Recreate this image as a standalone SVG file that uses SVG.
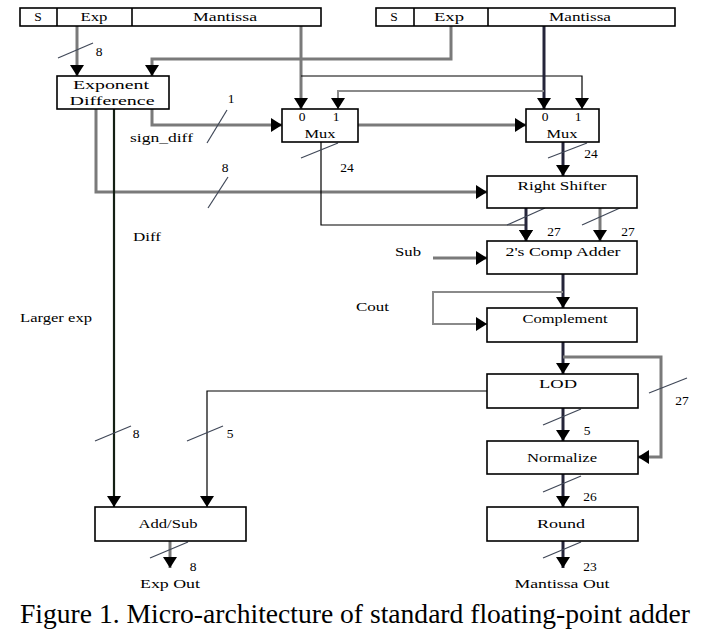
<svg xmlns="http://www.w3.org/2000/svg" width="702" height="630" viewBox="0 0 702 630">
<defs>
<marker id="ah" markerUnits="userSpaceOnUse" markerWidth="14" markerHeight="14" viewBox="0 0 11 14" refX="11" refY="7" orient="auto">
<path d="M0,0 L11,7 L0,14 Z" fill="#000"/>
</marker>
</defs>
<style>
.box{fill:#fff;stroke:#000;stroke-width:1.6}
.t{font-family:"Liberation Serif","Times New Roman",serif;font-size:13.5px;fill:#000;text-anchor:middle}
.l{font-family:"Liberation Serif","Times New Roman",serif;font-size:13.5px;fill:#000}
.g{fill:none;stroke:#7a7a7a;stroke-width:3}
.g2{fill:none;stroke:#8a8a8a;stroke-width:2}
.d{fill:none;stroke:#25253a;stroke-width:3}
.dk{fill:none;stroke:#142014;stroke-width:2.2}
.k{fill:none;stroke:#000;stroke-width:1.2}
.s{fill:none;stroke:#404858;stroke-width:1.2}
.a{marker-end:url(#ah)}
</style>
<rect width="702" height="630" fill="#fff"/>
<g id="connectors">
<path class="g a" d="M77,26 V76"/>
<path class="g a" d="M451,26 V59 H152 V76"/>
<path class="g a" d="M301,26 V109"/>
<path class="k a" d="M301,76 H582 V109"/>
<path class="d a" d="M544,26 V109"/>
<path class="g2 a" d="M544,91 H338 V109"/>
<path class="g a" d="M152,109 V125 H282"/>
<path class="g a" d="M358,125 H526"/>
<path class="g a" d="M96,109 V192 H487"/>
<path class="dk a" d="M114,109 V507"/>
<path class="k a" d="M321,142 V225 H526 V241"/>
<path class="d a" d="M563,142 V176"/>
<path class="d a" d="M526,208 V241"/>
<path class="g a" d="M600,208 V241"/>
<path class="g a" d="M433,258 H487"/>
<path class="d a" d="M563,274 V308"/>
<path class="g2 a" d="M563,292 H433 V324 H487"/>
<path class="d a" d="M563,342 V374"/>
<path class="g a" d="M563,357 H661 V457 H638"/>
<path class="k a" d="M487,391 H207 V507"/>
<path class="d a" d="M563,408 V441"/>
<path class="d a" d="M563,474 V507"/>
<path class="d a" d="M563,541 V568"/>
<path class="g a" d="M170,541 V568"/>
<g id="slashes">
<path class="s" d="M58,58 L93,43"/>
<path class="s" d="M207,143 L227,110"/>
<path class="s" d="M208,208 L228,177"/>
<path class="s" d="M301,158 L338,143"/>
<path class="s" d="M548,158 L587,143"/>
<path class="s" d="M507,225 L545,208"/>
<path class="s" d="M582,225 L620,208"/>
<path class="s" d="M649,393 L687,378"/>
<path class="s" d="M95,441 L131,426"/>
<path class="s" d="M187,441 L223,426"/>
<path class="s" d="M543,425 L581,409"/>
<path class="s" d="M543,492 L581,476"/>
<path class="s" d="M543,558 L581,542"/>
<path class="s" d="M150,558 L188,542"/>
</g>
<g id="connector-labels">
<text class="t" x="99" y="56">8</text>
<text class="t" x="231" y="103">1</text>
<text class="l" x="130" y="142" textLength="63" lengthAdjust="spacingAndGlyphs">sign_diff</text>
<text class="t" x="225" y="172">8</text>
<text class="l" x="133" y="241" textLength="28" lengthAdjust="spacingAndGlyphs">Diff</text>
<text class="l" x="20" y="322" textLength="72" lengthAdjust="spacingAndGlyphs">Larger exp</text>
<text class="t" x="347" y="172">24</text>
<text class="t" x="591" y="158">24</text>
<text class="t" x="554" y="236">27</text>
<text class="t" x="628" y="236">27</text>
<text class="l" x="395" y="256" textLength="26" lengthAdjust="spacingAndGlyphs">Sub</text>
<text class="l" x="356" y="311" textLength="33" lengthAdjust="spacingAndGlyphs">Cout</text>
<text class="t" x="682" y="405">27</text>
<text class="t" x="136" y="438">8</text>
<text class="t" x="230" y="438">5</text>
<text class="t" x="587" y="435">5</text>
<text class="t" x="590" y="501">26</text>
<text class="t" x="590" y="571">23</text>
<text class="t" x="193" y="571">8</text>
<text class="t" x="170" y="588" textLength="60" lengthAdjust="spacingAndGlyphs">Exp Out</text>
<text class="t" x="562" y="588" textLength="95" lengthAdjust="spacingAndGlyphs">Mantissa Out</text>
</g>
</g>
<g id="reg-a">
<rect class="box" x="20" y="8" width="301" height="18"/>
<line x1="57" y1="8" x2="57" y2="26" stroke="#000" stroke-width="1.6"/>
<line x1="132" y1="8" x2="132" y2="26" stroke="#000" stroke-width="1.6"/>
<text class="t" x="38" y="21">S</text>
<text class="t" x="94" y="21" textLength="27" lengthAdjust="spacingAndGlyphs">Exp</text>
<text class="t" x="225" y="21" textLength="64" lengthAdjust="spacingAndGlyphs">Mantissa</text>
</g>
<g id="reg-b">
<rect class="box" x="376" y="8" width="299" height="18"/>
<line x1="414" y1="8" x2="414" y2="26" stroke="#000" stroke-width="1.6"/>
<line x1="488" y1="8" x2="488" y2="26" stroke="#000" stroke-width="1.6"/>
<text class="t" x="394" y="21">S</text>
<text class="t" x="449" y="21" textLength="30" lengthAdjust="spacingAndGlyphs">Exp</text>
<text class="t" x="580" y="21" textLength="62" lengthAdjust="spacingAndGlyphs">Mantissa</text>
</g>
<g id="expdiff">
<rect class="box" x="57" y="76" width="112" height="33"/>
<text class="t" x="111" y="89" textLength="76" lengthAdjust="spacingAndGlyphs">Exponent</text>
<text class="t" x="112" y="105" textLength="85" lengthAdjust="spacingAndGlyphs">Difference</text>
</g>
<g id="mux1">
<rect class="box" x="282" y="109" width="76" height="33"/>
<text class="t" x="302" y="121">0</text>
<text class="t" x="336" y="121">1</text>
<text class="t" x="320" y="138" textLength="31" lengthAdjust="spacingAndGlyphs">Mux</text>
</g>
<g id="mux2">
<rect class="box" x="526" y="109" width="73" height="33"/>
<text class="t" x="545" y="121">0</text>
<text class="t" x="578" y="121">1</text>
<text class="t" x="562" y="138" textLength="31" lengthAdjust="spacingAndGlyphs">Mux</text>
</g>
<g id="rshift">
<rect class="box" x="487" y="176" width="150" height="32"/>
<text class="t" x="562" y="190" textLength="89" lengthAdjust="spacingAndGlyphs">Right Shifter</text>
</g>
<g id="adder">
<rect class="box" x="487" y="241" width="150" height="33"/>
<text class="t" x="563" y="256" textLength="115" lengthAdjust="spacingAndGlyphs">2's Comp Adder</text>
</g>
<g id="complement">
<rect class="box" x="487" y="308" width="150" height="34"/>
<text class="t" x="565" y="323" textLength="85" lengthAdjust="spacingAndGlyphs">Complement</text>
</g>
<g id="lod">
<rect class="box" x="487" y="374" width="151" height="34"/>
<text class="t" x="558" y="388" textLength="38" lengthAdjust="spacingAndGlyphs">LOD</text>
</g>
<g id="normalize">
<rect class="box" x="487" y="441" width="151" height="33"/>
<text class="t" x="562" y="462" textLength="70" lengthAdjust="spacingAndGlyphs">Normalize</text>
</g>
<g id="round">
<rect class="box" x="487" y="507" width="151" height="34"/>
<text class="t" x="561" y="528" textLength="48" lengthAdjust="spacingAndGlyphs">Round</text>
</g>
<g id="addsub">
<rect class="box" x="95" y="507" width="151" height="34"/>
<text class="t" x="168" y="528" textLength="59" lengthAdjust="spacingAndGlyphs">Add/Sub</text>
</g>
<text x="20" y="623" font-family="'Liberation Serif','Times New Roman',serif" font-size="27" textLength="670" lengthAdjust="spacingAndGlyphs">Figure 1. Micro-architecture of standard floating-point adder</text>
</svg>
